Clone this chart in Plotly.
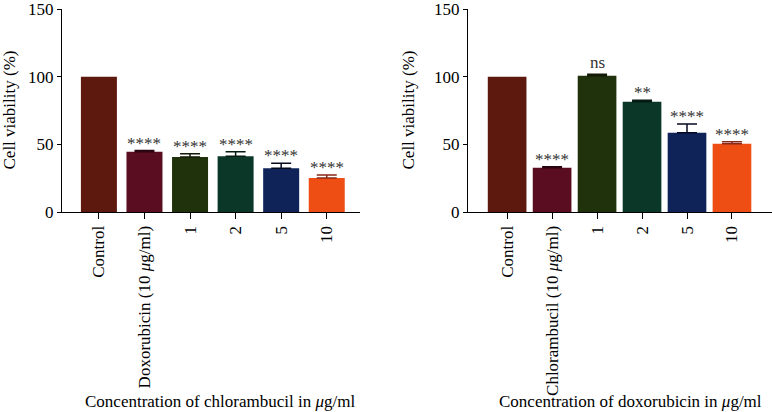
import plotly.graph_objects as go

# ---- data ----
left_categories = ["Control", "Doxorubicin (10 <i>μ</i>g/ml)", "1", "2", "5", "10"]
left_values = [100, 44.5, 40.7, 41.2, 32.4, 25.1]
left_errors = [0, 0.9, 2.4, 3.3, 3.6, 2.2]
left_sig = ["", "****", "****", "****", "****", "****"]

right_categories = ["Control", "Chlorambucil (10 <i>μ</i>g/ml)", "1", "2", "5", "10"]
right_values = [100, 32.7, 100.7, 81.4, 58.6, 50.4]
right_errors = [0, 0.7, 1.0, 1.2, 6.5, 1.6]
right_sig = ["", "****", "ns", "**", "****", "****"]

y_ticks = [0, 50, 100, 150]
left_xtitle = "Concentration of chlorambucil in <i>μ</i>g/ml"
right_xtitle = "Concentration of doxorubicin in <i>μ</i>g/ml"
y_title = "Cell viability (%)"

bar_colors = ["#5E190E", "#5A0D20", "#1F320C", "#0A3727", "#0F2359", "#EE4E14"]
err_colors = ["#2a0a05", "#2a0510", "#111a05", "#051a12", "#050a20", "#8a2a1a"]

FONT = "Liberation Serif, Times New Roman, serif"

fig = go.Figure()

def add_panel(cats, vals, errs, sigs, xaxis, yaxis, width):
    idx = list(range(len(cats)))
    for i in idx:
        e = errs[i]
        fig.add_trace(go.Bar(
            x=[i], y=[vals[i]], width=width,
            marker=dict(color=bar_colors[i], line=dict(width=0)),
            error_y=dict(type="data", array=[e], arrayminus=[0], symmetric=False,
                         color=err_colors[i], thickness=1.5, width=10,
                         visible=e > 0),
            xaxis=xaxis, yaxis=yaxis, showlegend=False,
        ))
    for i in idx:
        s = sigs[i]
        if s:
            fig.add_annotation(
                x=i, y=vals[i] + errs[i], xref=xaxis, yref=yaxis, text=s,
                showarrow=False, yanchor="bottom",
                yshift=-4 if s.startswith("*") else 0,
                font=dict(family=FONT, size=17, color="#333333"),
            )
    return idx

left_idx = add_panel(left_categories, left_values, left_errors, left_sig, "x", "y", 0.79)
right_idx = add_panel(right_categories, right_values, right_errors, right_sig, "x2", "y2", 0.86)

W, H = 772, 412
axis_common = dict(
    showline=True, linecolor="black", linewidth=1.2,
    ticks="outside", tickcolor="black", tickwidth=1.2,
    showgrid=False, zeroline=False, ticklabeloverflow="allow",
    tickfont=dict(family=FONT, size=17, color="black"),
)

fig.update_layout(
    width=W, height=H,
    margin=dict(l=0, r=0, t=6, b=200),
    plot_bgcolor="white", paper_bgcolor="white",
    xaxis=dict(domain=[62 / W, 360 / W], range=[-0.81, 5.73], tickangle=-90,
               tickmode="array", tickvals=left_idx, ticktext=left_categories,
               ticklen=6, anchor="y", **axis_common),
    yaxis=dict(domain=[0, 1], range=[0, 150], tickvals=y_ticks, ticklen=4,
               anchor="x", **axis_common),
    xaxis2=dict(domain=[468 / W, 1.0], range=[-0.87, 5.89], tickangle=-90,
                tickmode="array", tickvals=right_idx, ticktext=right_categories,
                ticklen=6, anchor="y2", **axis_common),
    yaxis2=dict(domain=[0, 1], range=[0, 150], tickvals=y_ticks, ticklen=4,
                anchor="x2", **axis_common),
)

title_font = dict(family=FONT, size=17, color="black")
fig.add_annotation(x=220 / W, y=-192 / (H - 206), xref="paper", yref="paper",
                   text=left_xtitle, showarrow=False, font=title_font,
                   xanchor="center", yanchor="middle")
fig.add_annotation(x=630 / W, y=-192 / (H - 206), xref="paper", yref="paper",
                   text=right_xtitle, showarrow=False, font=title_font,
                   xanchor="center", yanchor="middle")
fig.add_annotation(x=9 / W, y=0.5, xref="paper", yref="paper", text=y_title,
                   textangle=-90, showarrow=False, font=title_font,
                   xanchor="center", yanchor="middle")
fig.add_annotation(x=408 / W, y=0.5, xref="paper", yref="paper", text=y_title,
                   textangle=-90, showarrow=False, font=title_font,
                   xanchor="center", yanchor="middle")

fig.write_html("out.html", config={"displayModeBar": False},
               post_script="document.body.style.margin='0';document.body.style.overflow='hidden';")
